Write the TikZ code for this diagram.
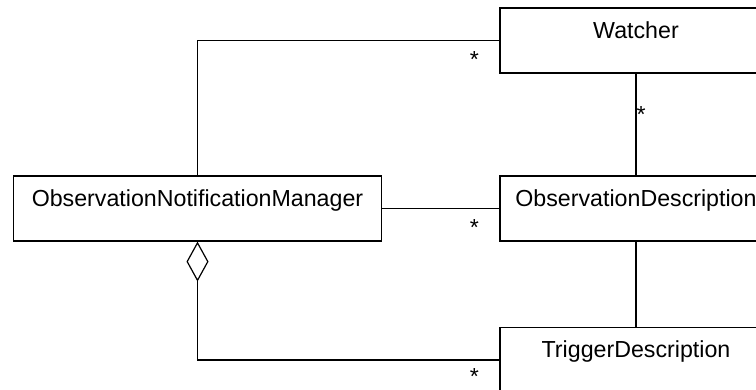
\documentclass[tikz,border=0pt]{standalone}
\usepackage{fontspec}
\setmainfont{Liberation Sans}
\usetikzlibrary{arrows.meta}
\newcommand{\classfont}{\fontsize{23.2}{28}\selectfont}
\begin{document}
\begin{tikzpicture}[
		x=1pt, y=-1pt,
		classbox/.style={draw, rectangle, line width=1.2pt, inner ysep=0pt, minimum width=272pt, minimum height=65pt, text height=30pt, text depth=35pt, font=\classfont},
		link/.style={line width=1.2pt},
		mult/.style={font=\classfont, inner sep=0pt}
		]
		
		\useasboundingbox (0,0) rectangle (756,389);
		\clip (0,0) rectangle (756,389);
		\fill[white] (0,0) rectangle (756,389);
		
		\node[classbox] (watcher) at (636,40.5) {Watcher};
		\node[classbox, minimum width=368pt] (manager) at (197.5,208.5) {ObservationNotificationManager};
		\node[classbox] (obsdesc) at (636,208.5) {ObservationDescription};
		\node[classbox] (trigger) at (636,360) {TriggerDescription};
		
		\draw[link] (manager.north) |- (watcher.west) node[mult, xshift=-25pt, yshift=-19pt] {*};
		\draw[link] (manager.east) -- (obsdesc.west) node[mult, xshift=-25pt, yshift=-19pt] {*};
		\draw[link] (watcher.south) -- node[mult, pos=0.4, right] {*} (obsdesc.north);
		\draw[link] (obsdesc.south) -- (trigger.north);
		\draw[link, {Diamond[open, length=40pt, width=22pt]}-] (manager.south) |- (trigger.west) node[mult, xshift=-25pt, yshift=-17pt] {*};
		
	\end{tikzpicture}
\end{document}
